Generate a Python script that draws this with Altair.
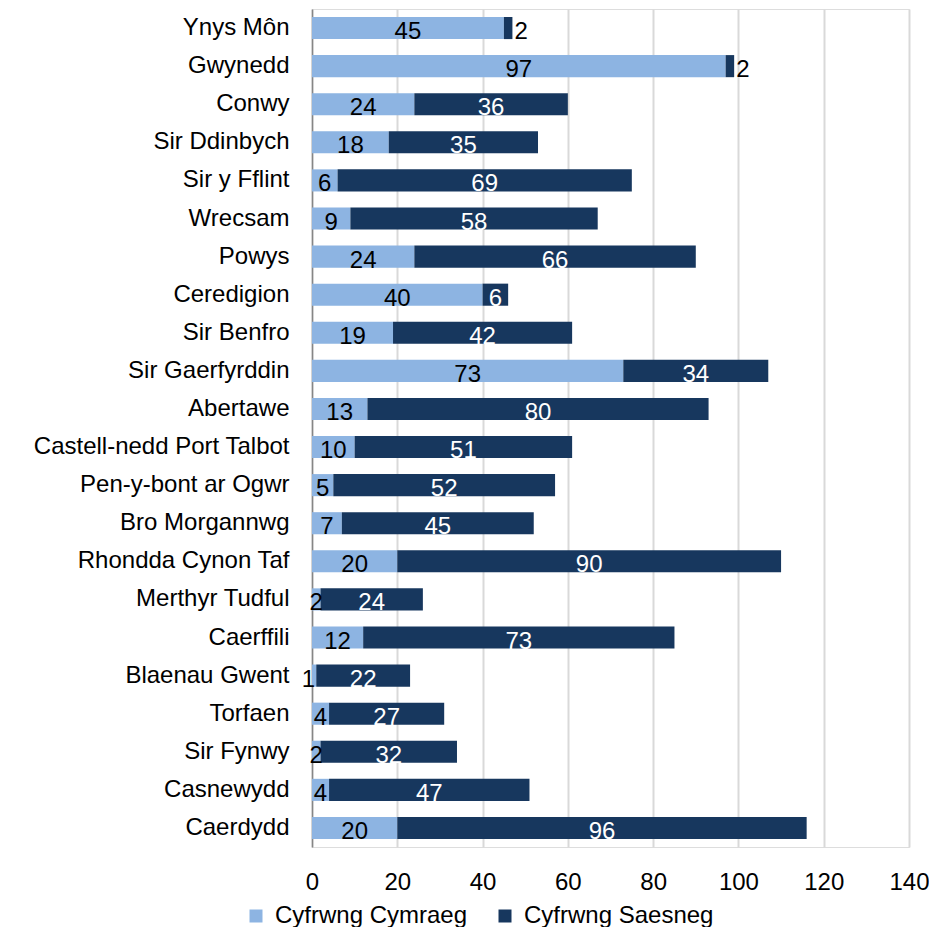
import altair as alt
import pandas as pd

areas = ["Ynys Môn", "Gwynedd", "Conwy", "Sir Ddinbych", "Sir y Fflint", "Wrecsam",
         "Powys", "Ceredigion", "Sir Benfro", "Sir Gaerfyrddin", "Abertawe",
         "Castell-nedd Port Talbot", "Pen-y-bont ar Ogwr", "Bro Morgannwg",
         "Rhondda Cynon Taf", "Merthyr Tudful", "Caerffili", "Blaenau Gwent",
         "Torfaen", "Sir Fynwy", "Casnewydd", "Caerdydd"]
cymraeg = [45, 97, 24, 18, 6, 9, 24, 40, 19, 73, 13, 10, 5, 7, 20, 2, 12, 1, 4, 2, 4, 20]
saesneg = [2, 2, 36, 35, 69, 58, 66, 6, 42, 34, 80, 51, 52, 45, 90, 24, 73, 22, 27, 32, 47, 96]
series = ["Cyfrwng Cymraeg", "Cyfrwng Saesneg"]
colors = ["#8DB4E2", "#17375E"]
ticks = [0, 20, 40, 60, 80, 100, 120, 140]

rows = []
for a, c, s in zip(areas, cymraeg, saesneg):
    rows.append({"area": a, "series": series[0], "value": c, "ord": 0})
    rows.append({"area": a, "series": series[1], "value": s, "ord": 1})
df = pd.DataFrame(rows)

FONT = "Liberation Sans"
FS = 24

base = alt.Chart(df).transform_stack(
    stack="value", groupby=["area"], as_=["x0", "x1"], sort=[alt.SortField("ord")]
).transform_calculate(mid="(datum.x0 + datum.x1) / 2")

yenc = alt.Y("area:N", sort=areas, title=None,
             scale=alt.Scale(paddingInner=0.42, paddingOuter=0.21),
             axis=alt.Axis(domain=True, domainColor="#868686", domainWidth=1.5,
                           ticks=False, labelPadding=23, grid=False, labelLimit=0,
                           labelFont=FONT, labelFontSize=FS, labelColor="#000000"))
xscale = alt.Scale(domain=[0, 140], nice=False)

bars = base.mark_bar().encode(
    x=alt.X("x0:Q", scale=xscale, title=None,
            axis=alt.Axis(values=ticks, domain=False, ticks=False, grid=True,
                          gridColor="#D9D9D9", gridWidth=2, labelPadding=23,
                          labelFlush=False, labelOverlap=False,
                          labelFont=FONT, labelFontSize=FS, labelColor="#000000")),
    x2="x1:Q",
    y=yenc,
    color=alt.Color("series:N", scale=alt.Scale(domain=series, range=colors),
                    legend=alt.Legend(title=None, orient="none", direction="horizontal",
                                      legendX=-68, legendY=895, padding=0,
                                      symbolType="square", symbolSize=169,
                                      symbolStrokeWidth=0, labelFont=FONT,
                                      labelFontSize=FS, labelColor="#000000",
                                      labelLimit=0, labelOffset=7, columnPadding=25)),
)

def txt(filt, xfield, color, align, dx):
    return base.transform_filter(filt).mark_text(
        font=FONT, fontSize=FS, color=color, align=align, baseline="middle", dx=dx, dy=4
    ).encode(x=alt.X(f"{xfield}:Q", scale=xscale), y=alt.Y("area:N", sort=areas),
             text="value:Q")

t_light = txt("datum.ord == 0 && datum.value >= 2", "mid", "#000000", "center", 0)
t_light_tiny = txt("datum.ord == 0 && datum.value < 2", "x0", "#000000", "right", 3)
t_dark = txt("datum.ord == 1 && datum.value > 2", "mid", "#FFFFFF", "center", 0)
t_dark_small = txt("datum.ord == 1 && datum.value <= 2", "x1", "#000000", "left", 2)

chart = alt.layer(bars, t_light, t_light_tiny, t_dark, t_dark_small).properties(
    width=597, height=838,
    autosize=alt.AutoSizeParams(type="none"),
    padding={"left": 304, "top": 1, "right": 20, "bottom": 80},
).configure_view(stroke=None).configure(background="white")

chart.save("out.html", embed_options={"renderer": "svg", "actions": False})
